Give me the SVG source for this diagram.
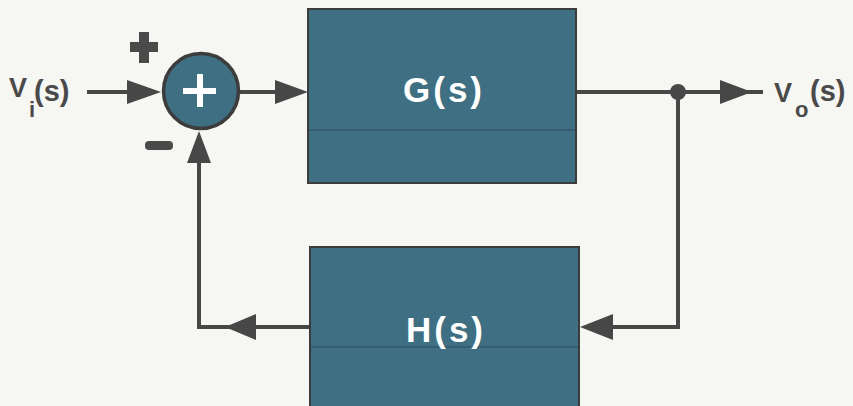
<svg xmlns="http://www.w3.org/2000/svg" width="853" height="406" viewBox="0 0 853 406">
  <style>
    .block { fill: #3e6f82; stroke: #3c3c3c; stroke-width: 2; }
    .seam { stroke: #35596a; stroke-width: 1.5; }
    .wire { fill: none; stroke: #474747; stroke-width: 4; stroke-linejoin: miter; }
    .head { fill: #474747; }
    .blabel { font-family: "Liberation Sans", Arial, sans-serif; font-weight: bold; font-size: 35px; fill: #ffffff; letter-spacing: 3px; text-anchor: middle; }
    .sig { font-family: "Liberation Sans", Arial, sans-serif; font-weight: bold; fill: #4a4a4a; }
    .sign { fill: #4a4a4a; }
  </style>
  <rect width="853" height="406" fill="#f6f6f3"/>

  <!-- connectors -->
  <g id="connectors">
    <!-- input to summing junction -->
    <line class="wire" x1="87" y1="92" x2="130" y2="92"/>
    <polygon class="head" points="127,80 161,92 127,104"/>
    <!-- summing junction to G -->
    <line class="wire" x1="238" y1="92" x2="278" y2="92"/>
    <polygon class="head" points="275,80 308,92 275,104"/>
    <!-- G to output -->
    <line class="wire" x1="576" y1="92" x2="763" y2="92"/>
    <polygon class="head" points="720,80 752,92 720,104"/>
    <circle cx="678" cy="92" r="8" class="head"/>
    <!-- feedback path into H -->
    <polyline class="wire" points="678,92 678,327 610,327"/>
    <polygon class="head" points="613,314 580,327 613,340"/>
    <!-- H back to summing junction -->
    <polyline class="wire" points="310,327 199,327 199,160"/>
    <polygon class="head" points="256,314 225,327 256,340"/>
    <polygon class="head" points="187,163 199,131 211,163"/>
  </g>

  <!-- summing junction -->
  <g id="sum">
    <circle cx="201" cy="91" r="37.5" fill="#3e6f82" stroke="#3c3c3c" stroke-width="3.5"/>
    <rect x="183" y="88" width="33" height="6" fill="#ffffff"/>
    <rect x="197" y="74" width="6" height="33" fill="#ffffff"/>
    <!-- signs -->
    <path class="sign" d="M139,32 h10 v10 h9 v10 h-9 v11 h-10 v-11 h-9 v-10 h9 z"/>
    <rect class="sign" x="145" y="141" width="28" height="9" rx="4"/>
  </g>

  <!-- forward block -->
  <g id="G">
    <rect class="block" x="308" y="9" width="268" height="174"/>
    <line class="seam" x1="309" y1="130" x2="575" y2="130"/>
    <text class="blabel" x="444" y="102">G(s)</text>
  </g>

  <!-- feedback block -->
  <g id="H">
    <rect class="block" x="310" y="247" width="269" height="170"/>
    <line class="seam" x1="311" y1="347" x2="578" y2="347"/>
    <text class="blabel" x="446" y="342">H(s)</text>
  </g>

  <!-- signal labels -->
  <g id="Vi">
    <text class="sig" x="9" y="97" font-size="27">V</text>
    <text class="sig" x="29" y="117" font-size="22">i</text>
    <text class="sig" x="34" y="101" font-size="29">(s)</text>
  </g>
  <g id="Vo">
    <text class="sig" x="774" y="102" font-size="27">V</text>
    <text class="sig" x="795" y="117" font-size="22">o</text>
    <text class="sig" x="810" y="101" font-size="29">(s)</text>
  </g>
</svg>
